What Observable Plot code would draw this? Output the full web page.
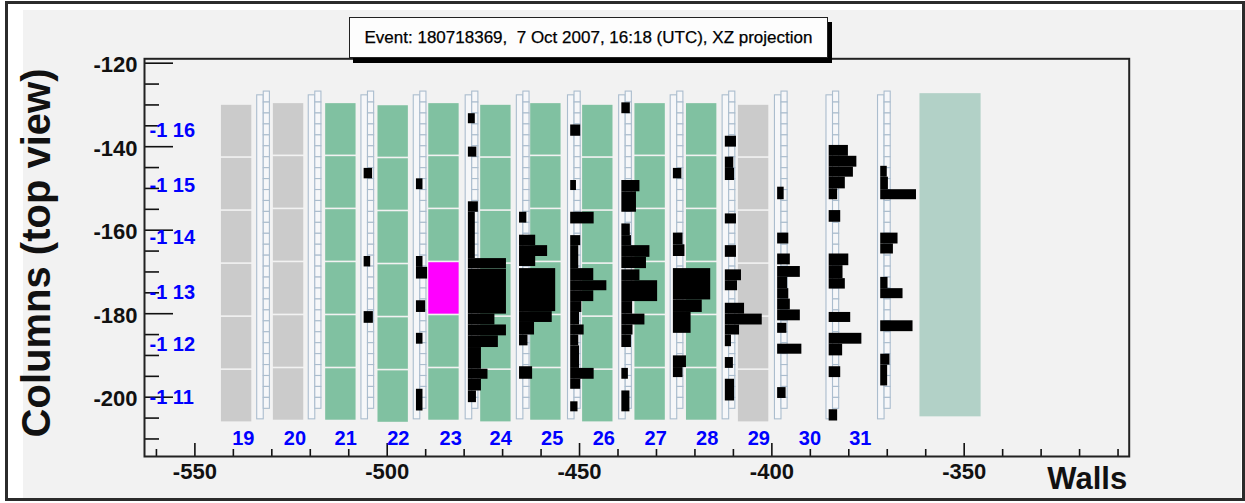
<!DOCTYPE html>
<html><head><meta charset="utf-8">
<script src="https://cdn.jsdelivr.net/npm/d3@7"></script>
<script src="https://cdn.jsdelivr.net/npm/@observablehq/plot@0.6"></script>
<style>
html,body{margin:0;padding:0;background:#fff;width:1245px;height:503px;overflow:hidden;font-family:"Liberation Sans",Arial,sans-serif;}
#canvas{position:absolute;left:23px;top:10px;width:1218px;height:488px;background:#f2f2f2;}
#border{position:absolute;left:5px;top:1px;width:1234px;height:494px;border:3px solid #2b2b2b;}
#chart{position:absolute;left:0;top:0;}
#title{position:absolute;left:349px;top:17px;width:479px;height:41px;box-sizing:border-box;border:1px solid #222;background:#fdfdfd;box-shadow:4px 5px 0 #000;font-size:17px;line-height:39px;text-align:center;white-space:pre;color:#000;-webkit-text-stroke:0.25px #000;}
</style></head>
<body>
<div id="canvas"></div>
<div id="border"></div>
<div id="chart"></div>
<div id="title">Event: 180718369,  7 Oct 2007, 16:18 (UTC), XZ projection</div>
<script>
// ---------- axis ticks ----------
const xMajorTicks = [-550, -500, -450, -400, -350];
const xMinorTicks = [-560, -540, -530, -520, -510, -490, -480, -470, -460, -440, -430, -420, -410, -390, -380, -370, -360, -340, -330, -320, -310];
const yMajorTicks = [-120, -140, -160, -180, -200];
const yMinorTicks = [-125, -130, -135, -145, -150, -155, -165, -170, -175, -185, -190, -195, -205, -210];

// ---------- brick walls ----------
const wallIds   = [19, 20, 21, 22, 23, 24, 25, 26, 27, 28, 29];
const wallLeft  = [-543.1, -529.6, -516.0, -502.4, -489.2, -475.7, -462.7, -449.2, -435.6, -422.2, -408.7];
const wallShift = [-0.4, 0, 0, -0.5, 0, -0.4, 0, -0.4, 0, 0, -0.4];
const wallKind  = ["off", "off", "on", "on", "on", "on", "on", "on", "on", "on", "off"];
const brickRowTops = [-129.5, -142.2, -154.9, -167.6, -180.3, -193.0];
const brickHeight = 12.7;
const brickWidth = 7.9;
const candidateBrick = {wall: 23, row: 3};

// wall number labels
const wallLabelIds = [19, 20, 21, 22, 23, 24, 25, 26, 27, 28, 29, 30, 31];
const wallLabelX   = [-537.4, -524.0, -510.8, -497.1, -483.5, -470.5, -457.1, -443.7, -430.2, -416.8, -403.4, -390.1, -377.0];
const wallLabelY   = -209.9;

// brick row labels
const rowLabels = ["-1 16", "-1 15", "-1 14", "-1 13", "-1 12", "-1 11"];
const rowLabelY = [-136.1, -149.3, -161.8, -174.9, -187.5, -200.0];
const rowLabelX = -561.8;

// ---------- target trackers ----------
const trackerIds = [20, 21, 22, 23, 24, 25, 26, 27, 28, 29, 30, 31, 32];
const trackerX   = [-533.8, -520.4, -506.7, -493.1, -479.6, -466.3, -453.0, -439.7, -426.3, -412.8, -399.2, -385.8, -372.4];
const stripTop = -126.8, stripPitch = 2.62, stripCount = 29;
const trackerFrameTop = -127.7, trackerFrameBottom = -205.3;

// hits per tracker: [top, bottom, signal length]
const hitsT20 = [];
const hitsT21 = [];
const hitsT22 = [[-145.2,-147.7,2.2],[-166.3,-168.8,1.7],[-179.5,-182.3,2.4]];
const hitsT23 = [[-147.7,-150.3,1.7],[-166.3,-168.9,1.7],[-168.9,-171.7,2.9],[-176.9,-179.7,2.4],[-184.7,-187.3,1.7],[-198.1,-203.3,1.7]];
const hitsT24 = [[-132.1,-134.5,1.8],[-140.1,-142.5,2.2],[-153.2,-155.7,2.6],[-155.7,-166.8,1.8],[-166.8,-169.2,9.9],[-169.3,-180.1,9.9],[-180.1,-182.7,6.9],[-182.7,-185.3,9.9],[-185.3,-188.1,7.8],[-188.1,-193.3,3.4],[-193.3,-195.7,5.1],[-195.7,-198.5,3.4],[-198.5,-201.3,2.1]];
const hitsT25 = [[-155.7,-158.3,1.9],[-161.2,-163.7,4.2],[-163.7,-166.3,7.3],[-166.3,-168.7,4.2],[-169.2,-179.5,9.4],[-179.5,-182.1,8.5],[-182.1,-185.1,3.9],[-185.1,-187.7,2.2],[-192.7,-195.7,3.4]];
const hitsT26 = [[-134.8,-137.5,2.6],[-148.1,-150.5,1.5],[-155.7,-158.5,6.1],[-161.3,-163.7,2.6],[-163.7,-169.2,2.1],[-169.2,-172.1,6.0],[-172.1,-174.5,9.4],[-174.5,-177.1,6.0],[-177.1,-179.7,2.9],[-179.7,-182.7,2.3],[-182.7,-185.1,3.5],[-185.1,-187.7,2.1],[-187.7,-193.1,2.3],[-193.1,-195.7,6.1],[-195.7,-198.1,2.6],[-201.1,-203.5,1.9]];
const hitsT27 = [[-129.5,-132.1,2.2],[-148.1,-150.8,4.7],[-150.8,-155.7,3.8],[-158.5,-161.3,2.2],[-161.3,-163.7,2.5],[-163.7,-166.5,7.3],[-166.5,-169.2,6.4],[-169.5,-172.1,4.7],[-172.1,-177.1,9.3],[-177.1,-180.1,2.8],[-180.1,-182.7,6.0],[-182.7,-185.1,2.9],[-185.1,-188.1,2.5],[-193.1,-195.7,1.7],[-198.5,-203.5,2.1]];
const hitsT28 = [[-145.2,-147.7,2.2],[-160.7,-163.5,2.5],[-163.5,-166.3,3.0],[-169.2,-176.7,9.7],[-176.7,-179.7,7.5],[-179.7,-184.7,4.6],[-190.1,-192.9,3.4],[-192.9,-195.3,2.5]];
const hitsT29 = [[-137.5,-140.1,2.9],[-142.5,-145.2,2.2],[-145.2,-148.1,2.4],[-156.1,-158.5,2.9],[-163.7,-166.5,2.9],[-169.5,-172.1,4.2],[-172.1,-174.5,3.2],[-177.5,-180.1,5.0],[-180.1,-182.7,9.6],[-182.7,-185.1,3.7],[-185.1,-187.9,1.6],[-190.5,-193.1,2.1],[-195.7,-200.9,2.4]];
const hitsT30 = [[-149.7,-152.7,1.7],[-160.7,-163.3,2.9],[-165.7,-168.3,3.3],[-168.7,-171.3,5.9],[-171.3,-174.0,2.6],[-174.0,-176.5,2.9],[-176.5,-179.1,3.3],[-179.1,-181.7,5.9],[-182.3,-184.7,2.4],[-187.3,-189.7,6.3],[-197.7,-200.3,2.2]];
const hitsT31 = [[-139.7,-142.3,5.0],[-142.3,-144.9,7.2],[-144.9,-147.3,6.3],[-147.3,-150.1,4.2],[-150.1,-152.7,2.2],[-155.3,-158.1,3.0],[-165.7,-168.5,5.1],[-168.5,-171.6,3.6],[-171.6,-174.1,4.2],[-179.7,-182.1,5.6],[-184.7,-187.3,8.5],[-187.3,-190.1,3.5],[-192.7,-195.3,3.0],[-203.0,-205.7,2.2]];
const hitsT32 = [[-144.7,-147.3,1.7],[-147.3,-150.3,2.0],[-150.3,-152.7,9.3],[-160.7,-163.3,4.5],[-163.3,-165.7,3.3],[-171.3,-174.0,1.9],[-174.0,-176.4,5.8],[-181.7,-184.3,8.4],[-189.7,-192.3,2.4],[-192.3,-197.3,1.8]];
const hitOffset = 0.7;

// downstream block
const tailBlockX = [-361.5, -345.6];
const tailBlockY = [-127.3, -204.7];

// ---------- build tables ----------
const kindColor = {off: "#cbcbcb", on: "#80c1a1", cand: "#ff00ff"};
const bricks = [];
wallIds.forEach((w, i) => brickRowTops.forEach((t, r) => {
  bricks.push({
    x1: wallLeft[i], x2: wallLeft[i] + brickWidth,
    y1: t + wallShift[i], y2: t + wallShift[i] - brickHeight,
    kind: (w === candidateBrick.wall && r === candidateBrick.row) ? "cand" : wallKind[i]
  });
}));

const stripCells = [];
trackerX.forEach(x => {
  for (let k = 0; k < stripCount; k++) {
    stripCells.push({x1: x + 1.7, x2: x + 3.3, y1: stripTop - k * stripPitch, y2: stripTop - (k + 1) * stripPitch});
  }
});
const trackerFrames = trackerX.map(x => ({x1: x, x2: x + 1.7, y1: trackerFrameTop, y2: trackerFrameBottom}));

const allHits = [hitsT20, hitsT21, hitsT22, hitsT23, hitsT24, hitsT25, hitsT26, hitsT27, hitsT28, hitsT29, hitsT30, hitsT31, hitsT32];
const hits = [];
allHits.forEach((arr, i) => arr.forEach(([top, bottom, len]) => {
  hits.push({x1: trackerX[i] + hitOffset, x2: trackerX[i] + hitOffset + len, y1: top, y2: bottom});
}));

const W = 1245, H = 503, mL = 144, mR = 116.3, mT = 58.3, mB = 47;
const innerW = W - mL - mR, innerH = H - mT - mB;
const font = "Liberation Sans, Arial, Helvetica, sans-serif";

const chart = Plot.plot({
  width: W, height: H,
  marginLeft: mL, marginRight: mR, marginTop: mT, marginBottom: mB,
  style: {background: "transparent", fontFamily: font, overflow: "visible"},
  x: {domain: [-563.1, -307.1], axis: null},
  y: {domain: [-214.2, -118.95], axis: null},
  color: {type: "identity"},
  marks: [
    Plot.rect(bricks, {x1: "x1", x2: "x2", y1: "y1", y2: "y2", fill: d => kindColor[d.kind], insetTop: 0.8, insetBottom: 0.8}),
    Plot.rect([0], {x1: () => tailBlockX[0], x2: () => tailBlockX[1], y1: () => tailBlockY[0], y2: () => tailBlockY[1], fill: "#b2d1c7"}),
    Plot.rect(trackerFrames, {x1: "x1", x2: "x2", y1: "y1", y2: "y2", fill: "#f6f7f9", stroke: "#abbdce", strokeWidth: 1.1}),
    Plot.rect(stripCells, {x1: "x1", x2: "x2", y1: "y1", y2: "y2", fill: "#f6f7f9", stroke: "#abbdce", strokeWidth: 1.1}),
    Plot.rect(hits, {x1: "x1", x2: "x2", y1: "y1", y2: "y2", fill: "#000"}),
    Plot.tickY(yMajorTicks, {y: d => d, insetRight: innerW - 29, stroke: "#111", strokeWidth: 1.6}),
    Plot.tickY(yMinorTicks, {y: d => d, insetRight: innerW - 15, stroke: "#111", strokeWidth: 1.6}),
    Plot.tickX(xMajorTicks, {x: d => d, insetTop: innerH - 13, stroke: "#111", strokeWidth: 1.6}),
    Plot.tickX(xMinorTicks, {x: d => d, insetTop: innerH - 7, stroke: "#111", strokeWidth: 1.6}),
    Plot.frame({stroke: "#222", strokeWidth: 2}),
    Plot.text(yMajorTicks, {y: d => d, text: d => String(d), frameAnchor: "left", textAnchor: "end", dx: -7, dy: 2, fontSize: 22, fontWeight: "bold", fill: "#111"}),
    Plot.text(xMajorTicks, {x: d => d, text: d => String(d), frameAnchor: "bottom", lineAnchor: "top", dy: 7, fontSize: 22, fontWeight: "bold", fill: "#111"}),
    Plot.text(rowLabels, {x: () => rowLabelX, y: (d, i) => rowLabelY[i], text: d => d, textAnchor: "start", fontSize: 20, fontWeight: "bold", fill: "#0000ff"}),
    Plot.text(wallLabelIds, {x: (d, i) => wallLabelX[i], y: () => wallLabelY, text: d => String(d), fontSize: 20, fontWeight: "bold", fill: "#0000ff"}),
    Plot.text(["Columns (top view)"], {frameAnchor: "left", textAnchor: "middle", rotate: -90, dx: -107, dy: -4.7, fontSize: 40, fontWeight: "bold", fill: "#111"}),
    Plot.text(["Walls"], {frameAnchor: "bottom-right", textAnchor: "end", lineAnchor: "top", dx: -2, dy: 10, fontSize: 31, fontWeight: "bold", fill: "#111"})
  ]
});
document.getElementById("chart").appendChild(chart);
</script>
</body></html>
